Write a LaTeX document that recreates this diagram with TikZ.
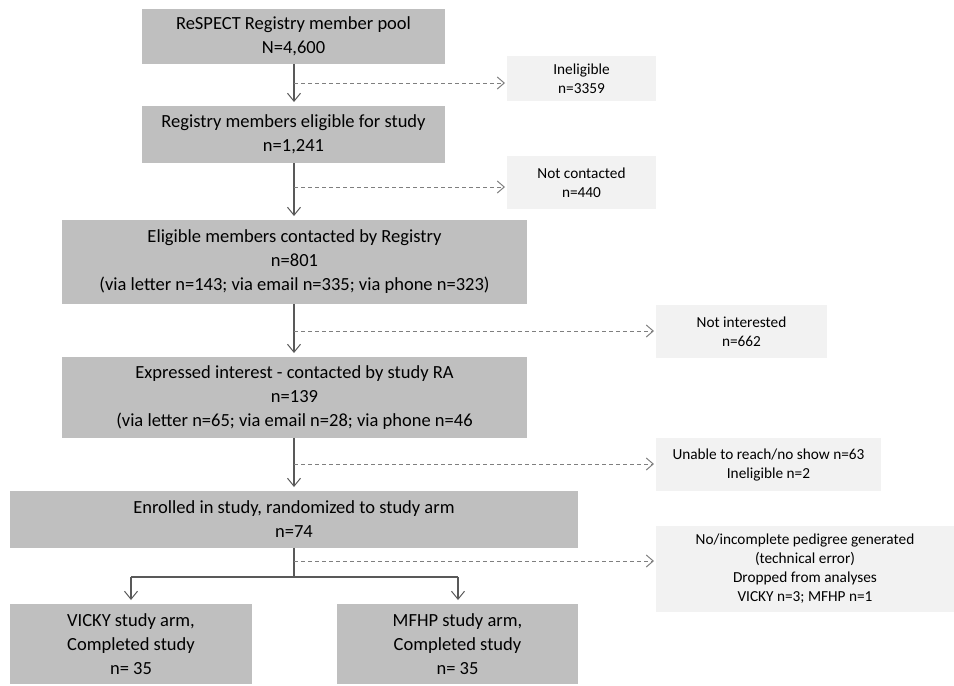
\documentclass[tikz,border=0pt]{standalone}
\usepackage{fontspec}
\setmainfont{Carlito}
\usetikzlibrary{arrows.meta}
\definecolor{mainfill}{HTML}{BFBFBF}
\definecolor{sidefill}{HTML}{F2F2F2}
\definecolor{solidline}{HTML}{595959}
\definecolor{dashline}{HTML}{7F7F7F}
\tikzset{
  mainbox/.style={fill=mainfill, draw=none, inner sep=0pt, outer sep=0pt, align=center, font=\fontsize{18.5}{24}\selectfont},
  sidebox/.style={fill=sidefill, draw=none, inner sep=0pt, outer sep=0pt, align=center, font=\fontsize{15.3}{19}\selectfont},
  flow/.style={draw=solidline, line width=1.1pt, -{Straight Barb[length=8pt,width=13pt,line width=1pt]}, shorten >=4pt},
  plainflow/.style={draw=solidline, line width=1.1pt},
  sideflow/.style={draw=dashline, line width=1pt, dash pattern=on 4pt off 3pt, -{Straight Barb[length=7pt,width=12pt,line width=1pt]}, shorten >=2pt},
}
\begin{document}
\begin{tikzpicture}[x=1pt,y=-1pt]
\useasboundingbox (0,0) rectangle (954,686);
% main boxes
\node[mainbox, minimum width=303pt, minimum height=55pt] (b1) at (293.5,36.5) {ReSPECT Registry member pool\\N=4,600};
\node[mainbox, minimum width=303pt, minimum height=57pt] (b2) at (293.5,134.5) {Registry members eligible for study\\n=1,241};
\node[mainbox, minimum width=465pt, minimum height=84pt] (b3) at (294.5,262) {Eligible members contacted by Registry\\n=801\\(via letter n=143; via email n=335; via phone n=323)};
\node[mainbox, minimum width=465pt, minimum height=81pt] (b4) at (294.5,397.5) {Expressed interest - contacted by study RA\\n=139\\(via letter n=65; via email n=28; via phone n=46};
\node[mainbox, minimum width=568pt, minimum height=57pt] (b5) at (294,519.5) {Enrolled in study, randomized to study arm\\n=74};
\node[mainbox, minimum width=242pt, minimum height=80pt] (b6) at (131,644) {VICKY study arm,\\Completed study\\n= 35};
\node[mainbox, minimum width=241pt, minimum height=80pt] (b7) at (457.5,644) {MFHP study arm,\\Completed study\\n= 35};
% side boxes
\node[sidebox, minimum width=149pt, minimum height=45pt] (s1) at (581.5,78.5) {Ineligible\\n=3359};
\node[sidebox, minimum width=149pt, minimum height=53pt] (s2) at (581.5,182.5) {Not contacted\\n=440};
\node[sidebox, minimum width=171pt, minimum height=53pt] (s3) at (741.5,331.5) {Not interested\\n=662};
\node[sidebox, minimum width=225pt, minimum height=53pt] (s4) at (768.5,464.5) {Unable to reach/no show n=63\\Ineligible n=2};
\node[sidebox, minimum width=298pt, minimum height=86pt] (s5) at (805,569) {No/incomplete pedigree generated\\(technical error)\\Dropped from analyses\\VICKY n=3; MFHP n=1};
% branch points
\coordinate (d1) at (294,83);
\coordinate (d2) at (294,187);
\coordinate (d3) at (294,331);
\coordinate (d4) at (294,464);
\coordinate (d5) at (294,561);
\coordinate (j) at (294,577);
\coordinate (jl) at (131,577);
\coordinate (jr) at (458,577);
% main flow
\draw[flow] (b1.south -| d1) -- (b2.north -| d1);
\draw[flow] (b2.south -| d2) -- (b3.north -| d2);
\draw[flow] (b3.south -| d3) -- (b4.north -| d3);
\draw[flow] (b4.south -| d4) -- (b5.north -| d4);
\draw[plainflow] (b5.south -| j) -- (j);
\draw[plainflow] (jl) -- (jr);
\draw[flow] (jl) -- (b6.north -| jl);
\draw[flow] (jr) -- (b7.north -| jr);
% side flows
\draw[sideflow] (d1) -- (s1.west |- d1);
\draw[sideflow] (d2) -- (s2.west |- d2);
\draw[sideflow] (d3) -- (s3.west |- d3);
\draw[sideflow] (d4) -- (s4.west |- d4);
\draw[sideflow] (d5) -- (s5.west |- d5);
\end{tikzpicture}
\end{document}
